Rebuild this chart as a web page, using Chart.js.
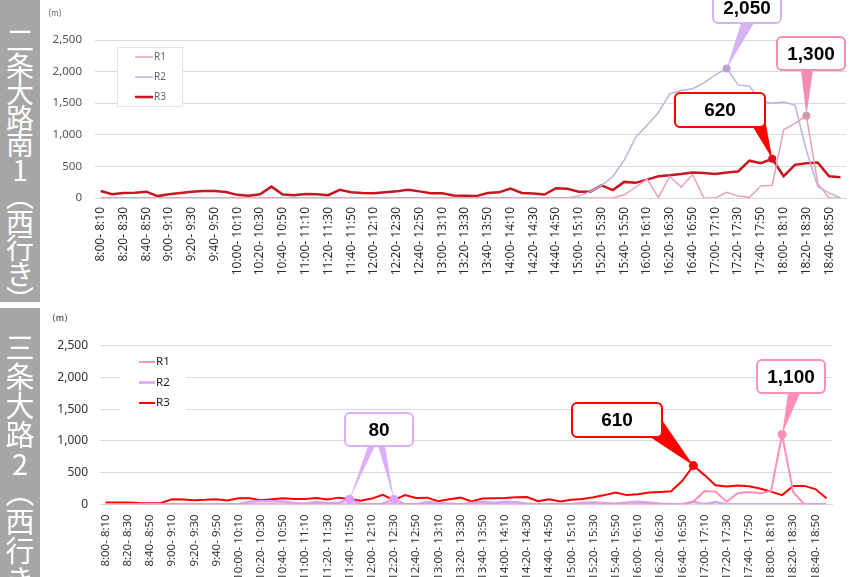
<!DOCTYPE html>
<html>
<head>
<meta charset="utf-8">
<script src="https://cdn.jsdelivr.net/npm/chart.js@4.4.0/dist/chart.umd.min.js"></script>
<style>
  body { margin: 0; background: #fff; width: 864px; height: 577px; overflow: hidden; position: relative; }
  .panel { position: absolute; left: 0; width: 864px; }
  .side { position: absolute; left: 0; width: 40px; background: #a6a6a6; overflow: hidden; z-index: 2; }
  .side span {
    display: block; width: 40px; height: 420px; white-space: nowrap; color: #fff;
    writing-mode: vertical-rl; text-orientation: upright;
    font-family: "Noto Sans CJK JP", sans-serif; line-height: 40px;
  }
</style>
</head>
<body>
<div class="side" style="top:0;height:302px"><span style="padding-top:26px;font-size:28px;letter-spacing:-2px">二条大路南1（西行き）</span></div>
<div class="side" style="top:308px;height:269px"><span style="padding-top:25px;font-size:29px">三条大路2（西行き）</span></div>
<div class="panel" style="top:0;height:298px"><canvas id="west1"></canvas></div>
<div class="panel" style="top:307px;height:270px"><canvas id="west2"></canvas></div>

<script>
// 10-minute slots, 8:00 - 19:00
const timeSlots = [
  "8:00- 8:10", "8:10- 8:20", "8:20- 8:30", "8:30- 8:40", "8:40- 8:50", "8:50- 9:00",
  "9:00- 9:10", "9:10- 9:20", "9:20- 9:30", "9:30- 9:40", "9:40- 9:50", "9:50- 10:00",
  "10:00- 10:10", "10:10- 10:20", "10:20- 10:30", "10:30- 10:40", "10:40- 10:50", "10:50- 11:00",
  "11:00- 11:10", "11:10- 11:20", "11:20- 11:30", "11:30- 11:40", "11:40- 11:50", "11:50- 12:00",
  "12:00- 12:10", "12:10- 12:20", "12:20- 12:30", "12:30- 12:40", "12:40- 12:50", "12:50- 13:00",
  "13:00- 13:10", "13:10- 13:20", "13:20- 13:30", "13:30- 13:40", "13:40- 13:50", "13:50- 14:00",
  "14:00- 14:10", "14:10- 14:20", "14:20- 14:30", "14:30- 14:40", "14:40- 14:50", "14:50- 15:00",
  "15:00- 15:10", "15:10- 15:20", "15:20- 15:30", "15:30- 15:40", "15:40- 15:50", "15:50- 16:00",
  "16:00- 16:10", "16:10- 16:20", "16:20- 16:30", "16:30- 16:40", "16:40- 16:50", "16:50- 17:00",
  "17:00- 17:10", "17:10- 17:20", "17:20- 17:30", "17:30- 17:40", "17:40- 17:50", "17:50- 18:00",
  "18:00- 18:10", "18:10- 18:20", "18:20- 18:30", "18:30- 18:40", "18:40- 18:50", "18:50- 19:00"
];
const yTicks = [0, 500, 1000, 1500, 2000, 2500];

// 二条大路南1（西行き） queue length (m)
const nijoR1 = [
  0, 0, 0, 0, 0, 0, 0, 0, 0, 0, 0, 0, 0, 0, 0, 0, 0, 0, 0, 0, 0, 0, 0, 0,
  0, 0, 0, 0, 0, 0, 0, 0, 0, 0, 0, 0, 0, 0, 0, 0, 0, 0, 0, 0, 0, 0,
  50, 170, 300, 10, 340, 170, 370, 0, 0, 90, 30, 10, 190, 200, 1080, 1180, 1300, 230, 0, 0
];
const nijoR2 = [
  0, 0, 0, 0, 0, 0, 0, 0, 0, 0, 0, 0, 0, 0, 0, 0, 0, 0, 0, 0, 0, 0, 0, 0,
  0, 0, 0, 0, 0, 0, 0, 0, 0, 0, 0, 0, 0, 0, 0, 0, 0, 0,
  30, 100, 200, 340, 600, 960, 1150, 1350, 1650, 1700, 1730, 1820, 1950, 2050,
  1790, 1770, 1530, 1500, 1520, 1470, 750, 180, 80, 0
];
const nijoR3 = [
  110, 60, 80, 85, 100, 30, 60, 80, 100, 110, 110, 95, 50, 35, 60, 180, 55, 45, 65, 60, 45, 130,
  90, 80, 75, 90, 105, 130, 105, 75, 75, 40, 35, 30, 80, 90, 150, 80, 70, 55, 155, 145,
  100, 100, 200, 125, 255, 240, 290, 345, 360, 380, 405, 395, 380, 405, 420, 590, 550, 620,
  345, 525, 550, 560, 345, 330
];

// 三条大路2（西行き） queue length (m)
const sanjoR1 = [
  0, 0, 0, 0, 0, 0, 0, 0, 0, 0, 0, 0, 0, 0, 0, 0, 0, 0, 0, 0, 0, 0, 0, 0,
  0, 0, 0, 0, 0, 0, 0, 0, 0, 0, 0, 0, 0, 0, 0, 0, 0, 0, 0, 0, 0, 0, 0, 0, 0, 0, 0, 0, 0,
  40, 210, 200, 40, 175, 195, 175, 210, 1100, 195, 0, 0, 0
];
const sanjoR2 = [
  0, 0, 0, 0, 0, 0, 0, 0, 0, 0, 0, 0, 0, 40, 50, 50, 45, 20, 10, 35, 20, 20,
  80, 10, 0, 10, 80, 0, 0, 35, 20, 10, 0, 20, 40, 20, 40, 35, 10, 0, 0, 10,
  0, 25, 30, 20, 10, 30, 40, 30, 10, 0, 0, 40, 0, 35, 0, 0, 0, 0, 0, 0, 0, 0, 0, 0
];
const sanjoR3 = [
  30, 30, 30, 20, 15, 20, 80, 75, 65, 70, 80, 60, 95, 95, 65, 80, 95, 85, 85, 100, 75, 105,
  85, 55, 90, 150, 65, 145, 100, 105, 50, 80, 105, 45, 90, 95, 100, 110, 115, 50, 80, 45,
  70, 85, 110, 145, 185, 145, 160, 185, 195, 205, 370, 610, 460, 300, 280, 295, 285, 250,
  200, 145, 290, 290, 240, 95
];

// callout boxes with pointer wedges to the labelled points
const calloutPlugin = {
  id: "callouts",
  afterDatasetsDraw(chart, args, opts) {
    const ctx = chart.ctx;
    (opts.items || []).forEach((c) => {
      const meta = chart.getDatasetMeta(c.dataset);
      ctx.save();
      ctx.fillStyle = c.color;
      c.pointers.forEach((p, k) => {
        const pt = meta.data[c.index[k]];
        ctx.beginPath();
        ctx.moveTo(p[0], p[1]);
        ctx.lineTo(p[2], p[3]);
        ctx.lineTo(pt.x, pt.y);
        ctx.closePath();
        ctx.fill();
      });
      const [x, y, w, h] = c.box;
      ctx.beginPath();
      ctx.roundRect(x, y, w, h, 5);
      ctx.fillStyle = "#fff";
      ctx.fill();
      ctx.lineWidth = 2;
      ctx.strokeStyle = c.color;
      ctx.stroke();
      ctx.fillStyle = "#000";
      ctx.font = 'bold 19px "Liberation Sans", Arial, sans-serif';
      ctx.textAlign = "center";
      ctx.textBaseline = "middle";
      ctx.fillText(c.text, x + w / 2, y + h / 2 + 1);
      ctx.restore();
    });
  },
};

// legend drawn inside the plot, plus the unit label
const boxLegend = {
  id: "boxLegend",
  beforeDatasetsDraw(chart, args, o) {
    const ctx = chart.ctx;
    ctx.save();
    ctx.fillStyle = "#fff";
    ctx.fillRect(o.x, o.y, o.w, o.h);
    if (o.border) {
      ctx.strokeStyle = o.border;
      ctx.lineWidth = 1;
      ctx.strokeRect(o.x + 0.5, o.y + 0.5, o.w, o.h);
    }
    ctx.font = o.font;
    ctx.textBaseline = "middle";
    chart.data.datasets.forEach((d, i) => {
      const yy = o.y + o.first + i * o.step;
      ctx.strokeStyle = d.borderColor;
      ctx.lineWidth = d.borderWidth;
      ctx.beginPath();
      ctx.moveTo(o.lineX, yy);
      ctx.lineTo(o.lineX + o.lineW, yy);
      ctx.stroke();
      ctx.fillStyle = o.color;
      ctx.fillText(d.label, o.lineX + o.lineW + 1, yy);
    });
    ctx.font = o.unitFont;
    ctx.fillStyle = o.color;
    ctx.textAlign = "center";
    ctx.fillText(o.unit, o.unitX, o.unitY);
    ctx.restore();
  },
};

function radiusFor(values, callouts, dsIndex, r) {
  const marked = [];
  callouts.filter((c) => c.dataset === dsIndex).forEach((c) => marked.push(...c.index));
  return values.map((v, i) => (marked.includes(i) ? r : 0));
}

function buildChart(id, s) {
  const series = [
    { label: "R1", data: s.r1, color: s.colors[0], width: s.widths[0], dot: s.dots[0] },
    { label: "R2", data: s.r2, color: s.colors[1], width: s.widths[1], dot: s.dots[1] },
    { label: "R3", data: s.r3, color: s.colors[2], width: s.widths[2], dot: s.dots[2] },
  ];
  return new Chart(document.getElementById(id), {
    type: "line",
    data: {
      labels: timeSlots,
      datasets: series.map((d, i) => ({
        label: d.label,
        data: d.data,
        borderColor: d.color,
        backgroundColor: d.dot,
        borderWidth: d.width,
        tension: 0,
        pointRadius: radiusFor(d.data, s.callouts, i, s.pointR),
        pointBorderWidth: 0,
        pointHoverRadius: 0,
      })),
    },
    options: {
      responsive: true,
      maintainAspectRatio: false,
      animation: false,
      layout: { padding: s.padding },
      scales: {
        x: {
          offset: true,
          grid: { display: false, drawTicks: false },
          border: { display: true, color: "#d9d9d9" },
          afterFit: (scale) => { scale.height = s.xHeight; },
          ticks: {
            autoSkip: false,
            minRotation: 90,
            maxRotation: 90,
            padding: s.xPad,
            color: s.xColor,
            font: { family: "'Noto Sans', sans-serif", size: s.xFont },
            callback: (v, i) => (i % 2 === 0 ? timeSlots[i] : ""),
          },
        },
        y: {
          min: 0,
          max: 2500,
          afterBuildTicks: (scale) => { scale.ticks = yTicks.map((v) => ({ value: v })); },
          afterFit: (scale) => { scale.width = s.yWidth; },
          grid: { color: "#d9d9d9", drawTicks: false },
          border: { display: false },
          ticks: {
            padding: s.yPad,
            color: s.yColor,
            font: { family: "'Noto Sans', sans-serif", size: s.yFont },
            callback: (v) => v.toLocaleString("en-US"),
          },
        },
      },
      plugins: {
        legend: { display: false },
        tooltip: { enabled: false },
        boxLegend: s.legend,
        callouts: { items: s.callouts },
      },
    },
    plugins: [boxLegend, calloutPlugin],
  });
}

buildChart("west1", {
  r1: nijoR1, r2: nijoR2, r3: nijoR3,
  colors: ["#e6a2b5", "#bdb1e1", "#c8161f"],
  dots: ["#d49aaa", "#b7a6d8", "#d8101c"],
  widths: [1.5, 1.5, 2.5],
  pointR: 4,
  padding: { left: 40, right: 12, top: 40, bottom: 0 },
  xHeight: 100, yWidth: 55, xPad: 9, yPad: 13,
  xFont: 12, yFont: 11.5, xColor: "#2e2e2e", yColor: "#555",
  legend: {
    x: 117, y: 47, w: 65, h: 59, border: "#e4e4e4",
    first: 10, step: 20, lineX: 135, lineW: 18,
    font: "10px 'Noto Sans', sans-serif", color: "#666",
    unit: "(m)", unitX: 55, unitY: 14, unitFont: "8px 'Noto Sans', sans-serif",
  },
  callouts: [
    { dataset: 1, index: [55], text: "2,050", color: "#d6b4f4", box: [713, -8, 68, 31], pointers: [[741, 23, 754, 23]] },
    { dataset: 0, index: [62], text: "1,300", color: "#f28db5", box: [777, 37, 68, 33], pointers: [[801, 70, 813, 70]] },
    { dataset: 2, index: [59], text: "620", color: "#ff0000", box: [675, 93, 90, 34], pointers: [[753, 127, 765, 119]] },
  ],
});

buildChart("west2", {
  r1: sanjoR1, r2: sanjoR2, r3: sanjoR3,
  colors: ["#ff8fb8", "#d9a3f7", "#ff0000"],
  dots: ["#ff8fb8", "#d9a3f7", "#ff0000"],
  widths: [2, 2.5, 2],
  pointR: 4.5,
  padding: { left: 40, right: 32, top: 38.7, bottom: 0 },
  xHeight: 72.7, yWidth: 60, xPad: 10, yPad: 12,
  xFont: 11.5, yFont: 12, xColor: "#333", yColor: "#333",
  legend: {
    x: 120, y: 45, w: 66, h: 60, border: null,
    first: 10, step: 20.5, lineX: 139, lineW: 16,
    font: "11.5px 'Noto Sans', sans-serif", color: "#222",
    unit: "（m）", unitX: 60, unitY: 11, unitFont: "9px 'Noto Sans CJK JP', sans-serif",
  },
  callouts: [
    { dataset: 1, index: [22, 26], text: "80", color: "#dcb0f7", box: [345, 106, 68, 33], pointers: [[368, 139, 375, 139], [378, 139, 385, 139]] },
    { dataset: 2, index: [53], text: "610", color: "#ff0000", box: [572, 96, 90, 34], pointers: [[662, 113, 650, 130]] },
    { dataset: 0, index: [61], text: "1,100", color: "#ff8fb8", box: [757, 53, 68, 33], pointers: [[788, 86, 800, 86]] },
  ],
});
</script>
</body>
</html>
